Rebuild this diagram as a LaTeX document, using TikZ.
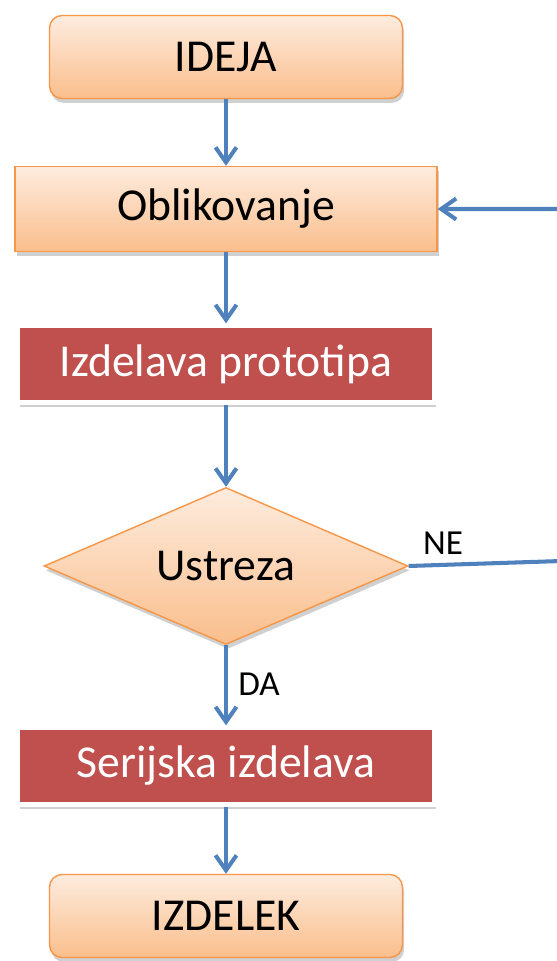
\documentclass[tikz,border=0pt]{standalone}
\usepackage{fontspec}
\setmainfont{Carlito}
\usetikzlibrary{shapes.geometric,arrows.meta,shadows}
\definecolor{peachtop}{RGB}{253,236,222}
\definecolor{peachbot}{RGB}{250,190,140}
\definecolor{peachedge}{RGB}{247,150,70}
\definecolor{brick}{RGB}{192,80,77}
\definecolor{flowblue}{RGB}{79,129,189}
\begin{document}
\begin{tikzpicture}[x=0.02cm,y=-0.02cm,
  font=\fontsize{26}{30}\selectfont,
  soft/.style={drop shadow={shadow xshift=1pt,shadow yshift=-2.5pt,opacity=0.3,fill=black!60}},
  peach/.style={draw=peachedge,line width=0.8pt,top color=peachtop,bottom color=peachbot,soft},
  startstop/.style={peach,rounded corners=0.25cm,minimum width=7.06cm,minimum height=1.66cm},
  task/.style={peach,minimum width=8.44cm,minimum height=1.7cm},
  work/.style={fill=brick,draw=white,line width=2.5pt,text=white,minimum width=8.32cm,minimum height=1.54cm,soft},
  decision/.style={peach,diamond,aspect=2.3,inner sep=0pt,minimum width=7.28cm,minimum height=3.14cm},
  flow/.style={draw=flowblue,line width=2.3pt,-{Straight Barb[length=0.3cm,width=0.42cm]}},
  answer/.style={font=\fontsize{20}{24}\selectfont}]
 \useasboundingbox[fill=white] (0,0) rectangle (557,961);
 % boxes
 \node[startstop] (idea) at (226,57) {IDEJA};
 \node[task] (shape) at (226,209) {Oblikovanje};
 \node[work] (proto) at (226,364) {Izdelava prototipa};
 \node[decision] (fits) at (226,566) {Ustreza};
 \node[work] (serial) at (226,766) {Serijska izdelava};
 \node[startstop] (product) at (226,916) {IZDELEK};
 % connectors
 \draw[flow] (idea) -- (shape);
 \draw[flow] (shape) -- (proto);
 \draw[flow] (proto) -- (fits);
 \draw[flow] (fits) -- (serial);
 \draw[flow] (serial) -- (product);
 \coordinate (back) at (561,561);
 \draw[flow] (fits.east) -- (back) |- (shape.east);
 \node[answer] (no) at (443,543) {NE};
 \node[answer] (yes) at (259,684) {DA};
\end{tikzpicture}
\end{document}
